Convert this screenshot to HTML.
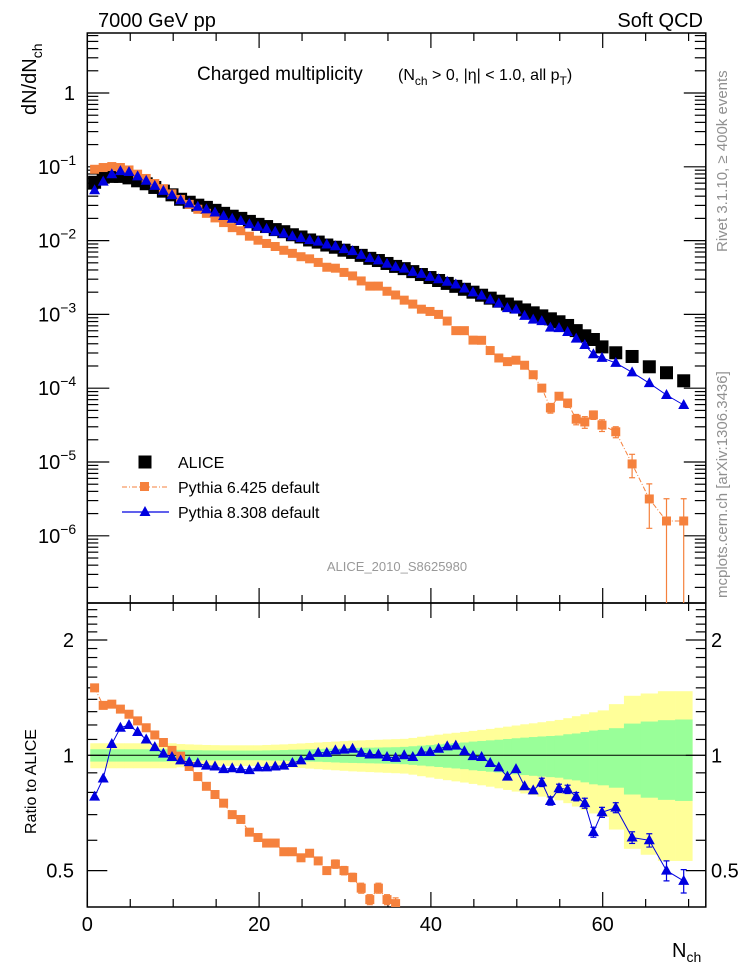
<!DOCTYPE html>
<html><head><meta charset="utf-8"><style>
html,body{margin:0;padding:0;background:#fff;width:746px;height:972px;overflow:hidden}
svg{display:block;font-family:"Liberation Sans",Arial,sans-serif}
</style></head><body>
<svg id="chart" width="746" height="972" viewBox="0 0 746 972" xmlns="http://www.w3.org/2000/svg">
<defs>
<clipPath id="clipTop"><rect x="87.3" y="33" width="618.5" height="570"/></clipPath>
<clipPath id="clipRatio"><rect x="87.3" y="603" width="618.5" height="304"/></clipPath>
</defs>
<g id="bands" clip-path="url(#clipRatio)"></g>
<g id="axes"></g>
<g id="series"></g>
<text x="98" y="27" font-size="20">7000 GeV pp</text>
<text x="703" y="27" font-size="20" text-anchor="end">Soft QCD</text>
<text x="197" y="80" font-size="19">Charged multiplicity</text>
<text x="398" y="80" font-size="16">(N<tspan font-size="12" dy="5">ch</tspan><tspan dy="-5"> &gt; 0, |η| &lt; 1.0, all p</tspan><tspan font-size="12" dy="5">T</tspan><tspan dy="-5">)</tspan></text>
<text transform="translate(36,115) rotate(-90)" font-size="20">dN/dN<tspan font-size="14" dy="6">ch</tspan></text>
<text transform="translate(36,834) rotate(-90)" font-size="16">Ratio to ALICE</text>
<text x="672" y="957" font-size="20">N<tspan font-size="14" dy="5">ch</tspan></text>
<text transform="translate(727,252) rotate(-90)" font-size="15" fill="#909090">Rivet 3.1.10, ≥ 400k events</text>
<text transform="translate(727,598) rotate(-90)" font-size="15" fill="#909090">mcplots.cern.ch [arXiv:1306.3436]</text>
<text x="397" y="571" font-size="13" fill="#999" text-anchor="middle">ALICE_2010_S8625980</text>
<g>
<g>
<rect x="138.5" y="455.5" width="13" height="13" fill="#000"/>
<text x="178" y="468" font-size="16">ALICE</text></g>
<g>
<line x1="122" y1="487" x2="167" y2="487" stroke="#f5813d" stroke-width="1" stroke-dasharray="5,2,1,2"/>
<rect x="140" y="482" width="9" height="9" fill="#f5813d"/>
<text x="178" y="493" font-size="16">Pythia 6.425 default</text></g>
<g>
<line x1="122" y1="512" x2="169" y2="512" stroke="#0000e0" stroke-width="1.2"/>
<path d="M139.5,516 L145,506 L150.5,516 Z" fill="#0000e0"/>
<text x="178" y="518" font-size="16">Pythia 8.308 default</text></g>
</g>
</svg>
<script>
const xs = [1,2,3,4,5,6,7,8,9,10,11,12,13,14,15,16,17,18,19,20,21,22,23,24,25,26,27,28,29,30,31,32,33,34,35,36,37,38,39,40,41,42,43,44,45,46,47,48,49,50,51,52,53,54,55,56,57,58,59,60,61.6,63.5,65.5,67.5,69.5];
const alice = [0.0617,0.0724,0.0741,0.0741,0.0708,0.0646,0.0589,0.0525,0.0468,0.0417,0.0363,0.0331,0.0302,0.0282,0.0257,0.0234,0.0214,0.0200,0.0182,0.0166,0.0155,0.0141,0.0132,0.0120,0.0112,0.0102,0.00955,0.00871,0.00813,0.00741,0.00692,0.00631,0.00575,0.00537,0.00490,0.00447,0.00417,0.00380,0.00347,0.00316,0.00288,0.00263,0.00240,0.00219,0.00200,0.00182,0.00166,0.00151,0.00138,0.00126,0.00115,0.00105,0.000955,0.000871,0.000794,0.000708,0.000603,0.000513,0.000457,0.000363,0.000302,0.000269,0.000195,0.000162,0.000126];
const ratioP6 = [1.50,1.35,1.36,1.32,1.28,1.23,1.18,1.13,1.08,1.03,0.995,0.935,0.88,0.83,0.79,0.75,0.70,0.68,0.63,0.61,0.59,0.59,0.56,0.56,0.54,0.555,0.53,0.50,0.52,0.50,0.48,0.45,0.42,0.45,0.42,0.41,0.374,0.363,0.339,0.347,0.347,0.309,0.251,0.275,0.224,0.245,0.195,0.170,0.166,0.19,0.178,0.145,0.105,0.062,0.098,0.089,0.063,0.068,0.095,0.087,0.085,0.035,0.0162,0.0098,0.0126];
const ratioP8 = [0.78,0.87,1.07,1.18,1.20,1.15,1.10,1.05,1.01,0.99,0.97,0.96,0.953,0.94,0.935,0.92,0.925,0.92,0.915,0.93,0.93,0.935,0.94,0.955,0.97,0.995,1.015,1.015,1.03,1.035,1.04,1.015,1.005,1.005,0.99,0.985,1.0,0.99,1.02,1.02,1.04,1.055,1.06,1.025,0.995,0.99,0.955,0.93,0.88,0.92,0.83,0.81,0.85,0.76,0.82,0.815,0.78,0.75,0.63,0.71,0.73,0.61,0.60,0.50,0.47];
const errP6 = [0.01,0.01,0.01,0.01,0.01,0.01,0.01,0.01,0.01,0.01,0.01,0.01,0.01,0.01,0.01,0.01,0.01,0.01,0.01,0.01,0.015,0.015,0.015,0.015,0.02,0.02,0.02,0.02,0.025,0.025,0.025,0.03,0.03,0.03,0.03,0.035,0.04,0.04,0.04,0.04,0.045,0.05,0.05,0.05,0.05,0.05,0.06,0.07,0.08,0.08,0.08,0.09,0.12,0.15,0.12,0.13,0.16,0.18,0.13,0.18,0.17,0.35,0.6,1.0,1.0];
const errP8 = [0.01,0.01,0.01,0.01,0.01,0.01,0.01,0.01,0.01,0.01,0.01,0.01,0.01,0.01,0.01,0.01,0.01,0.01,0.01,0.01,0.01,0.01,0.01,0.01,0.01,0.01,0.01,0.01,0.01,0.01,0.01,0.01,0.01,0.01,0.01,0.01,0.01,0.01,0.012,0.012,0.012,0.012,0.015,0.015,0.015,0.015,0.018,0.018,0.02,0.02,0.02,0.02,0.025,0.025,0.025,0.025,0.025,0.03,0.03,0.03,0.03,0.035,0.04,0.06,0.07];
const statBand = [0.037,0.037,0.037,0.037,0.037,0.037,0.037,0.037,0.037,0.037,0.033,0.032,0.031,0.030,0.030,0.029,0.029,0.029,0.029,0.029,0.030,0.031,0.032,0.034,0.035,0.037,0.038,0.040,0.042,0.044,0.045,0.046,0.047,0.048,0.049,0.050,0.052,0.056,0.060,0.064,0.068,0.072,0.076,0.080,0.086,0.090,0.094,0.098,0.103,0.108,0.112,0.116,0.120,0.123,0.126,0.135,0.140,0.150,0.160,0.165,0.177,0.21,0.225,0.235,0.24];
const totBand = [0.075,0.075,0.075,0.075,0.075,0.075,0.075,0.075,0.075,0.075,0.070,0.068,0.066,0.064,0.063,0.062,0.062,0.062,0.062,0.062,0.064,0.066,0.068,0.071,0.074,0.077,0.080,0.083,0.086,0.089,0.092,0.094,0.096,0.098,0.100,0.102,0.104,0.110,0.118,0.125,0.132,0.139,0.145,0.151,0.158,0.165,0.172,0.180,0.188,0.196,0.205,0.212,0.220,0.228,0.237,0.25,0.265,0.28,0.295,0.31,0.36,0.43,0.45,0.47,0.47];
const xTicks = [0,20,40,60];
const topTickExps = [0,-1,-2,-3,-4,-5,-6];
const ratioTicks = [0.5,1,2];

const NS = "http://www.w3.org/2000/svg";
const X0 = 87.3, XR = 705.8, YT = 33, YB = 603, RT = 603, RB = 907;
function xPx(v){ return 86 + 8.6*v; }
function xAxisPx(v){ return X0 + 8.59*v; }
function yTop(v){ return 93 - 73.8*Math.log10(v); }
function yRat(v){ return 755.3 - 115.3*Math.log2(v); }
function mk(tag, attrs, parent){ const e=document.createElementNS(NS,tag); for(const k in attrs) e.setAttribute(k,attrs[k]); parent.appendChild(e); return e; }
const axes = document.getElementById('axes');
const series = document.getElementById('series');
const bands = document.getElementById('bands');

for(let i=0;i<xs.length;i++){
  const l = i===0 ? xs[0]-0.5 : (xs[i-1]+xs[i])/2;
  const r = i===xs.length-1 ? xs[i]+(xs[i]-xs[i-1])/2 : (xs[i]+xs[i+1])/2;
  const y1 = mk('rect',{x:xPx(l),width:xPx(r)-xPx(l)+0.3,y:yRat(1+totBand[i]),height:yRat(1-totBand[i])-yRat(1+totBand[i]),fill:'#ffff99'},bands);
  
  
}
for(let i=0;i<xs.length;i++){
  const l = i===0 ? xs[0]-0.5 : (xs[i-1]+xs[i])/2;
  const r = i===xs.length-1 ? xs[i]+(xs[i]-xs[i-1])/2 : (xs[i]+xs[i+1])/2;
  const g = mk('rect',{x:xPx(l),width:xPx(r)-xPx(l)+0.3,y:yRat(1+statBand[i]),height:yRat(1-statBand[i])-yRat(1+statBand[i]),fill:'#99ff99'},bands);
  
  
}
const one = mk('line',{x1:X0,x2:XR,y1:yRat(1),y2:yRat(1),stroke:'#000','stroke-width':1},axes);



for(const [t,b] of [[YT,YB],[RT,RB]]){
  const f = mk('rect',{x:X0,y:t,width:XR-X0,height:b-t,fill:'none',stroke:'#000','stroke-width':1.5},axes);
  
  
}
for(let v=0; v<=70; v+=5){
  const major = v%20===0; const L = major?15:8; const px=xAxisPx(v);
  for(const [t,b] of [[YT,YB],[RT,RB]]){
    mk('line',{x1:px,x2:px,y1:b,y2:b-L,stroke:'#000','stroke-width':1.2},axes);
    mk('line',{x1:px,x2:px,y1:t,y2:t+L,stroke:'#000','stroke-width':1.2},axes);
  }
}
for(const v of xTicks){
  const t = mk('text',{x:xAxisPx(v),y:931,'font-size':20,'text-anchor':'middle'},axes);
  t.textContent = String(v);
  
  
}
for(let e=-7;e<=0;e++){
  for(let m=1;m<=9;m++){
    const v = m*Math.pow(10,e); const py=yTop(v);
    if(py<YT||py>YB) continue;
    const L = m===1?22:11;
    mk('line',{x1:X0,x2:X0+L,y1:py,y2:py,stroke:'#000','stroke-width':1.2},axes);
    mk('line',{x1:XR,x2:XR-L,y1:py,y2:py,stroke:'#000','stroke-width':1.2},axes);
  }
}
for(const e of topTickExps){
  const py = yTop(Math.pow(10,e));
  const t = mk('text',{x:75,y:py+7,'font-size':20,'text-anchor':'end'},axes);
  
  
  if(e===0){ t.textContent='1'; }
  else {
    t.setAttribute('text-anchor','start'); t.setAttribute('x',38);
    t.textContent='10';
    const s = mk('tspan',{'font-size':14,dy:-9},t); s.textContent='\u2212'+(-e);
  }
}
for(let k=4; k<=25; k++){
  const vv = k/10; const py=yRat(vv);
  if(py<RT||py>RB) continue;
  const major = (k===5||k===10||k===20); const L = major?20:10;
  mk('line',{x1:X0,x2:X0+L,y1:py,y2:py,stroke:'#000','stroke-width':1.2},axes);
  mk('line',{x1:XR,x2:XR-L,y1:py,y2:py,stroke:'#000','stroke-width':1.2},axes);
}
for(const v of ratioTicks){
  const py=yRat(v);
  const t = mk('text',{x:74,y:py+7,'font-size':20,'text-anchor':'end'},axes);
  t.textContent=String(v);
  
  
  const t2 = mk('text',{x:711,y:py+7,'font-size':20},axes);
  t2.textContent=String(v);
  
  
}

const gTop = mk('g',{'clip-path':'url(#clipTop)'},series);
const gRat = mk('g',{'clip-path':'url(#clipRatio)'},series);
const p6 = xs.map((x,i)=>alice[i]*ratioP6[i]);
const p8 = xs.map((x,i)=>alice[i]*ratioP8[i]);
// builds a path clipped to [ymin,ymax] so nothing extends beyond the panel
function lineOf(vals,yf,ymin,ymax){
  let d=''; let pen=false;
  for(let i=0;i<vals.length;i++){
    const x=xPx(xs[i]), y=yf(vals[i]);
    const inside = y>=ymin && y<=ymax;
    if(i>0){
      const xp=xPx(xs[i-1]), yp=yf(vals[i-1]);
      const pin = yp>=ymin && yp<=ymax;
      if(pin && !inside){
        const yb = y>ymax?ymax:ymin; const t=(yb-yp)/(y-yp);
        d+=' L'+(xp+t*(x-xp)).toFixed(1)+','+yb.toFixed(1); pen=false;
      } else if(!pin && inside){
        const yb = yp>ymax?ymax:ymin; const t=(yb-yp)/(y-yp);
        d+=' M'+(xp+t*(x-xp)).toFixed(1)+','+yb.toFixed(1)+' L'+x.toFixed(1)+','+y.toFixed(1); pen=true;
      } else if(inside){
        d+=(pen?' L':' M')+x.toFixed(1)+','+y.toFixed(1); pen=true;
      }
    } else if(inside){ d+='M'+x.toFixed(1)+','+y.toFixed(1); pen=true; }
  }
  return d.trim();
}
function errBars(g,vals,errs,yf,color,top,bottom){
  for(let i=0;i<xs.length;i++){
    const yc = yf(vals[i]); if(yc<top||yc>bottom) continue;
    const lo = vals[i]*(1-errs[i]); const hi = vals[i]*(1+errs[i]);
    const yl = lo>0? Math.min(yf(lo),bottom) : bottom; const yh = Math.max(yf(hi),top); const px=xPx(xs[i]);
    if(yl-yh<8) continue;
    mk('line',{x1:px,x2:px,y1:yh,y2:yl,stroke:color,'stroke-width':1.2},g);
    mk('line',{x1:px-3,x2:px+3,y1:yh,y2:yh,stroke:color,'stroke-width':1.2},g);
    if(lo>0 && yf(lo)<bottom) mk('line',{x1:px-3,x2:px+3,y1:yl,y2:yl,stroke:color,'stroke-width':1.2},g);
  }
}
const l6 = mk('path',{d:lineOf(p6,yTop,YT,YB),fill:'none',stroke:'#f5813d','stroke-width':1,'stroke-dasharray':'5,2,1,2'},gTop);


const l8 = mk('path',{d:lineOf(p8,yTop,YT,YB),fill:'none',stroke:'#0000e0','stroke-width':1},gTop);


errBars(gTop,p6,errP6,yTop,'#f5813d',YT,YB);
for(let i=0;i<xs.length;i++){
  const r = mk('rect',{x:xPx(xs[i])-6.5,y:yTop(alice[i])-6.5,width:13,height:13,fill:'#000'},gTop);
  
  
}
for(let i=0;i<xs.length;i++){
  const r = mk('rect',{x:xPx(xs[i])-4.5,y:yTop(p6[i])-4.5,width:9,height:9,fill:'#f5813d'},gTop);
  
  
}
for(let i=0;i<xs.length;i++){
  const px=xPx(xs[i]), py=yTop(p8[i]);
  const r = mk('path',{d:`M${px-5.5},${py+4} L${px},${py-6} L${px+5.5},${py+4} Z`,fill:'#0000e0'},gTop);
  
  
}
const r6 = mk('path',{d:lineOf(ratioP6,yRat,RT,RB),fill:'none',stroke:'#f5813d','stroke-width':1,'stroke-dasharray':'5,2,1,2'},gRat);


const r8 = mk('path',{d:lineOf(ratioP8,yRat,RT,RB),fill:'none',stroke:'#0000e0','stroke-width':1},gRat);


errBars(gRat,ratioP6,errP6,yRat,'#f5813d',RT,RB);
errBars(gRat,ratioP8,errP8,yRat,'#0000e0',RT,RB);
for(let i=0;i<xs.length;i++){
  const py=yRat(ratioP6[i]);
  if(py-4.5>RB||py+4.5<RT) continue;
  const r = mk('rect',{x:xPx(xs[i])-4.5,y:py-4.5,width:9,height:9,fill:'#f5813d'},gRat);
  
  
}
for(let i=0;i<xs.length;i++){
  const px=xPx(xs[i]), py=yRat(ratioP8[i]);
  if(py-6>RB||py+4<RT) continue;
  const r = mk('path',{d:`M${px-5.5},${py+4} L${px},${py-6} L${px+5.5},${py+4} Z`,fill:'#0000e0'},gRat);
  
  
}
</script>
</body></html>
